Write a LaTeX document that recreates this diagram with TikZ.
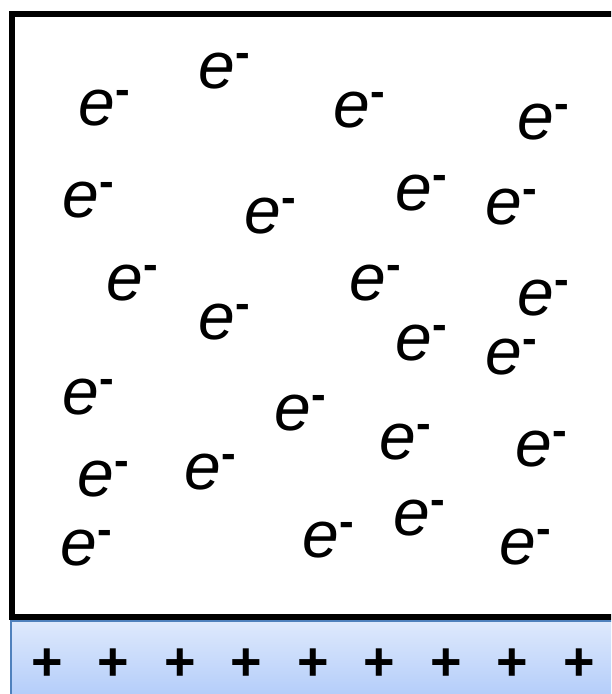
\documentclass[tikz,border=0pt]{standalone}
\usepackage{fontspec}
\setmainfont{Liberation Sans}
\definecolor{barTop}{RGB}{222,233,252}
\definecolor{barBot}{RGB}{166,196,249}
\definecolor{barLine}{RGB}{79,129,189}
\newcommand{\elab}{e\rlap{\smash{\raisebox{21pt}{\upshape\bfseries\fontsize{44}{46}\selectfont -}}}}
\tikzset{
  elec/.style={inner sep=0pt, font=\fontsize{66}{70}\selectfont\itshape},
  plussign/.style={inner sep=0pt, font=\fontsize{54}{60}\selectfont\bfseries},
  frame/.style={draw=black, line width=5.5pt},
  bar/.style={top color=barTop, bottom color=barBot, draw=barLine, line width=1.5pt}
}
\begin{document}
\begin{tikzpicture}[x=1pt,y=-1pt]
\useasboundingbox (0,0) rectangle (611,694);
\clip (0,0) rectangle (611,694);
\fill[white] (0,0) rectangle (611,694);
% positive plate
\path[bar] (11,621) rectangle (640,720);
% container
\draw[frame] (12,14) rectangle (640,617);
% electrons
\foreach \n/\x/\y in {1/97/108, 2/217/71, 3/352/110, 4/536/122,
  5/81/200, 6/263/216, 7/414/193, 8/504/207,
  9/125/283, 10/217/322, 11/368/283, 12/536/298, 13/414/343, 14/504/357,
  15/81/397, 16/293/413, 17/398/442, 18/534/449,
  19/96/479, 20/203/472,
  21/79/548, 22/321/540, 23/412/518, 24/518/547}
  \node[elec] (e\n) at (\x,\y) {\elab};
% plus charges
\foreach \i in {0,...,8}
  \node[plussign] (p\i) at ({47+66.5*\i},665) {+};
\end{tikzpicture}
\end{document}
